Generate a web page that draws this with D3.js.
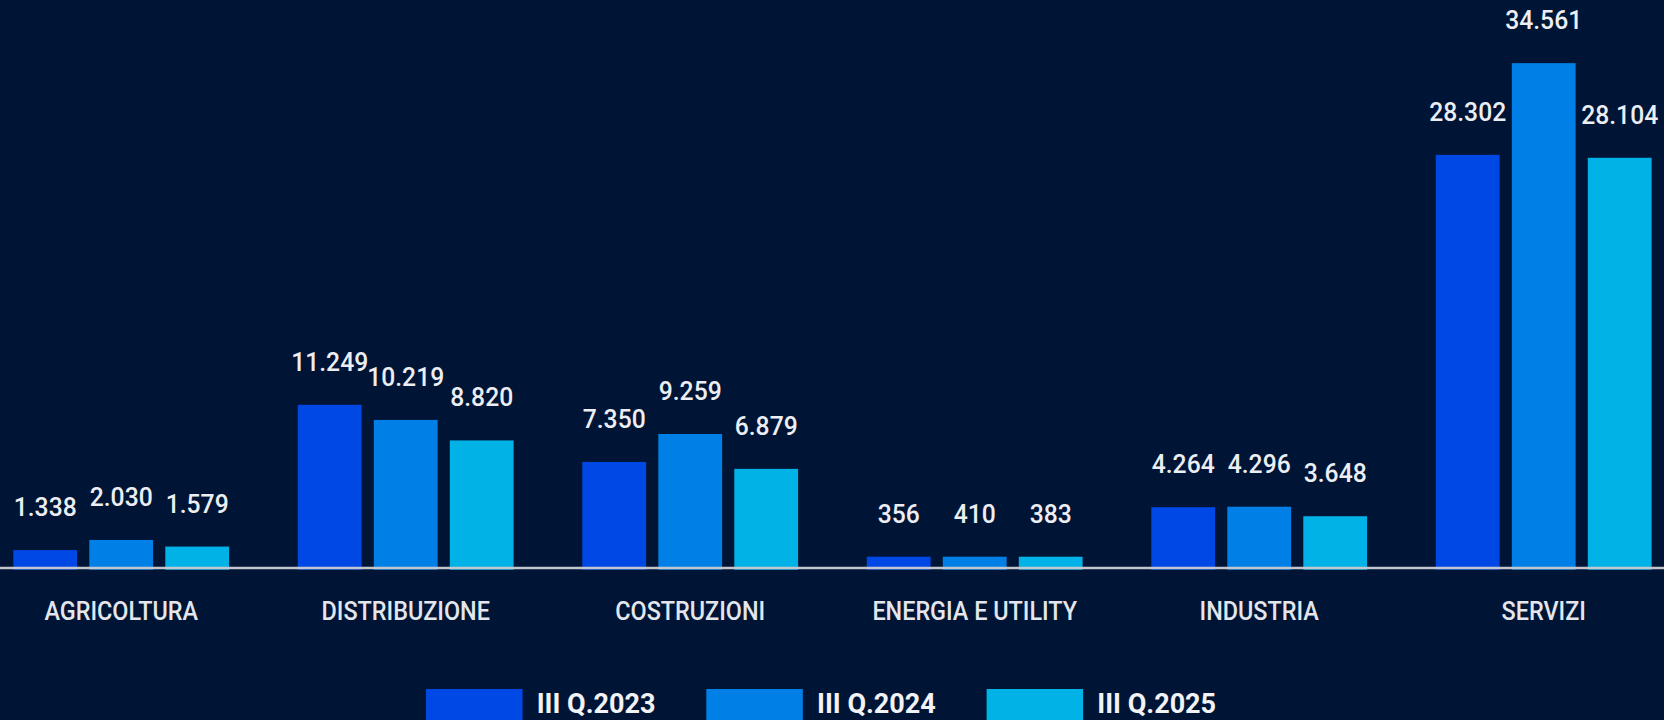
<!DOCTYPE html>
<html>
<head>
<meta charset="utf-8">
<script src="https://cdn.jsdelivr.net/npm/d3@7"></script>
<style>
  html, body { margin: 0; padding: 0; background: #001535; overflow: hidden; }
  svg { display: block; }
</style>
</head>
<body>
<svg id="chart" width="1664" height="720"></svg>
<script>
const categories = ["AGRICOLTURA", "DISTRIBUZIONE", "COSTRUZIONI", "ENERGIA E UTILITY", "INDUSTRIA", "SERVIZI"];
const seriesNames = ["III Q.2023", "III Q.2024", "III Q.2025"];
const q2023 = [1338, 11249, 7350, 356, 4264, 28302];
const q2024 = [2030, 10219, 9259, 410, 4296, 34561];
const q2025 = [1579, 8820, 6879, 383, 3648, 28104];
const seriesColors = ["#0048e6", "#0080e6", "#00b2e6"];

const seriesValues = [q2023, q2024, q2025];
const W = 1664, H = 720;
const svg = d3.select("#chart");
svg.append("rect").attr("width", W).attr("height", H).attr("fill", "#001535");

const itFmt = d3.formatLocale({decimal: ",", thousands: ".", grouping: [3], currency: ["€", ""]}).format(",d");

const x0 = d3.scaleBand().domain(categories).range([13.3, 1651.6]).paddingInner(0.2415).paddingOuter(0);
const x1 = d3.scaleBand().domain(seriesNames).range([0, x0.bandwidth()]).paddingInner(0.1605).paddingOuter(0);
const y = d3.scaleLinear().domain([0, 35000]).range([569.7, 569.7 - 35000 * 0.014657]);
const minBar = 13;

const rows = categories.map((c, i) => ({cat: c, vals: seriesNames.map((s, j) => ({s, j, v: seriesValues[j][i]}))}));

const groups = svg.append("g").selectAll("g").data(rows).join("g")
  .attr("transform", d => `translate(${x0(d.cat)},0)`);

const barTop = d => Math.min(y(d.v), y(0) - minBar);

groups.selectAll("rect").data(d => d.vals).join("rect")
  .attr("x", d => x1(d.s))
  .attr("width", x1.bandwidth())
  .attr("y", d => barTop(d))
  .attr("height", d => y(0) - barTop(d))
  .attr("fill", d => seriesColors[d.j]);

groups.selectAll("text.val").data(d => d.vals).join("text")
  .attr("class", "val")
  .attr("transform", d => `translate(${x1(d.s) + x1.bandwidth() / 2},${barTop(d) - 34}) scale(0.95,1)`)
  .attr("text-anchor", "middle")
  .attr("fill", "#eceef3")
  .style("font-family", "Roboto, 'Noto Sans', sans-serif")
  .style("font-weight", "500")
  .style("font-size", "26px")
  .text(d => itFmt(d.v));

// baseline axis
const xAxis = d3.axisBottom(x0).tickSize(0).tickPadding(0);
const axG = svg.append("g").attr("transform", "translate(0,568)").call(xAxis);
axG.select(".domain").remove();
axG.append("line").attr("x1", 0).attr("x2", W).attr("y1", 0).attr("y2", 0)
  .attr("stroke", "#c2c6cf").attr("stroke-width", 2.5);
axG.selectAll(".tick text")
  .attr("y", null).attr("dy", null)
  .attr("transform", "translate(0,52) scale(0.9,1)")
  .attr("fill", "#e4e6ec")
  .style("font-family", "Roboto, sans-serif")
  .style("font-weight", "500")
  .style("font-size", "26px");

// legend
const leg = svg.append("g").selectAll("g").data(seriesNames).join("g")
  .attr("transform", (d, i) => `translate(${426 + i * 280.3},689)`);
leg.append("rect").attr("width", 96.5).attr("height", 34).attr("fill", (d, i) => seriesColors[i]);
leg.append("text").attr("x", 110.7).attr("y", 23.5)
  .attr("fill", "#f2f3f6")
  .style("font-family", "Roboto, sans-serif")
  .style("font-weight", "bold")
  .style("font-size", "27px")
  .text(d => d);
</script>
</body>
</html>
